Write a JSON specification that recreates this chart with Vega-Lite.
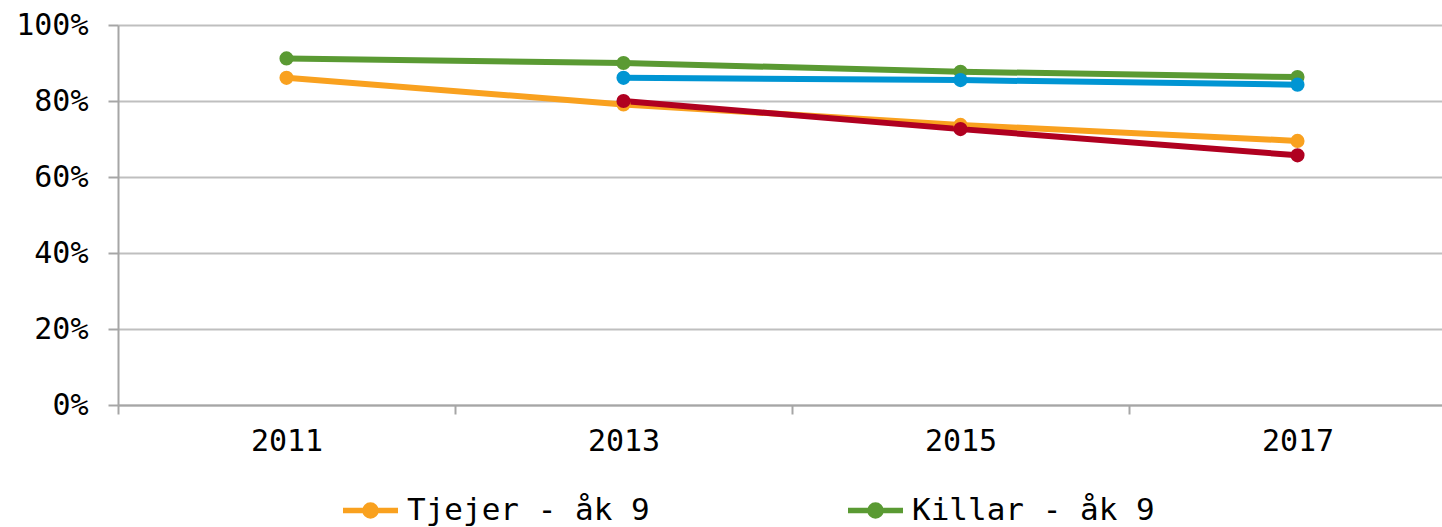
{
  "$schema": "https://vega.github.io/schema/vega-lite/v6.json",
  "autosize": {"type": "none"},
  "width": 1324,
  "height": 380,
  "padding": {"left": 118, "top": 25, "right": 0, "bottom": 122},
  "background": "white",
  "config": {
    "view": {"stroke": null},
    "font": "DejaVu Sans Mono",
    "axis": {"labelFont": "DejaVu Sans Mono", "labelColor": "#000000", "labelFontSize": 30, "domainColor": "#A6A6A6", "domainWidth": 2, "tickColor": "#A6A6A6", "tickWidth": 2, "gridColor": "#BFBFBF", "gridWidth": 2},
    "legend": {"labelFont": "DejaVu Sans Mono", "labelFontSize": 31, "labelColor": "#000000", "labelLimit": 0}
  },
  "data": {"values": [
    {"year": "2011", "series": "Tjejer - åk 9", "value": 0.861},
    {"year": "2013", "series": "Tjejer - åk 9", "value": 0.791},
    {"year": "2015", "series": "Tjejer - åk 9", "value": 0.737},
    {"year": "2017", "series": "Tjejer - åk 9", "value": 0.695},
    {"year": "2011", "series": "Killar - åk 9", "value": 0.912},
    {"year": "2013", "series": "Killar - åk 9", "value": 0.900},
    {"year": "2015", "series": "Killar - åk 9", "value": 0.877},
    {"year": "2017", "series": "Killar - åk 9", "value": 0.863},
    {"year": "2013", "series": "Killar - gy 2", "value": 0.861},
    {"year": "2015", "series": "Killar - gy 2", "value": 0.855},
    {"year": "2017", "series": "Killar - gy 2", "value": 0.843},
    {"year": "2013", "series": "Tjejer - gy 2", "value": 0.800},
    {"year": "2015", "series": "Tjejer - gy 2", "value": 0.726},
    {"year": "2017", "series": "Tjejer - gy 2", "value": 0.657}
  ]},
  "encoding": {
    "x": {
      "field": "year", "type": "nominal",
      "scale": {"range": [0, 1348], "paddingInner": 0, "paddingOuter": 0},
      "axis": {"title": null, "labelAngle": 0, "tickBand": "extent", "tickSize": 9, "labelBaseline": "middle", "labelPadding": 27, "grid": false}
    },
    "y": {
      "field": "value", "type": "quantitative",
      "scale": {"domain": [0, 1], "nice": false},
      "axis": {"title": null, "values": [0, 0.2, 0.4, 0.6, 0.8, 1], "format": ".0%", "tickSize": 10, "labelPadding": 20, "grid": true}
    },
    "color": {
      "field": "series", "type": "nominal",
      "scale": {"domain": ["Tjejer - åk 9", "Killar - åk 9", "Killar - gy 2", "Tjejer - gy 2"], "range": ["#F9A11F", "#5A9A33", "#0095D3", "#B00020"]},
      "legend": {
        "title": null, "orient": "none", "direction": "horizontal",
        "values": ["Tjejer - åk 9", "Killar - åk 9"],
        "legendX": 222, "legendY": 455,
        "symbolType": "M-1,0L1,0M-0.2,0A0.2,0.2,0,1,0,0.2,0A0.2,0.2,0,1,0,-0.2,0",
        "symbolSize": 3025, "symbolStrokeWidth": 5,
        "labelOffset": 6, "columnPadding": 187, "labelLimit": 0,
        "encode": {"symbols": {"update": {"stroke": {"scale": "color", "field": "value"}, "fill": {"scale": "color", "field": "value"}, "strokeWidth": {"value": 5.5}, "opacity": {"value": 1}}}}
      }
    }
  },
  "layer": [
    {"mark": {"type": "line", "strokeWidth": 6}},
    {"mark": {"type": "point", "filled": true, "size": 200, "opacity": 1}}
  ]
}
